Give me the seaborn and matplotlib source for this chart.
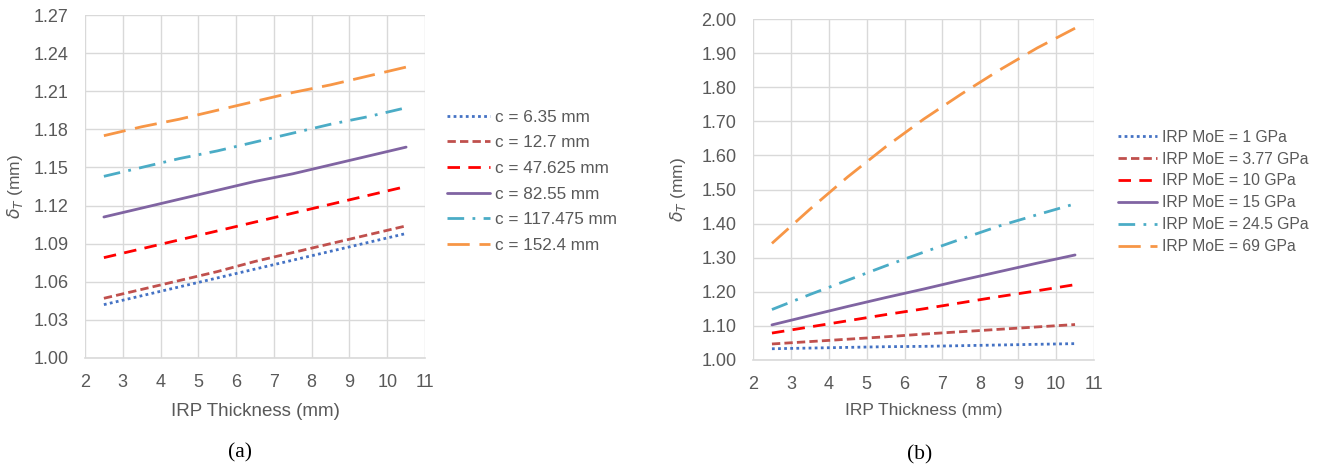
import matplotlib
matplotlib.use("Agg")
import matplotlib.pyplot as plt
import seaborn as sns
import pandas as pd

# ---- data ----
thickness = [2.5, 3.5, 4.5, 5.5, 6.5, 7.5, 8.5, 9.5, 10.5]

labels_a = ["c = 6.35 mm", "c = 12.7 mm", "c = 47.625 mm", "c = 82.55 mm",
            "c = 117.475 mm", "c = 152.4 mm"]
c_635 = [1.042, 1.049, 1.056, 1.063, 1.070, 1.077, 1.084, 1.091, 1.098]
c_127 = [1.047, 1.054, 1.061, 1.068, 1.076, 1.083, 1.090, 1.097, 1.104]
c_47625 = [1.079, 1.086, 1.093, 1.100, 1.107, 1.114, 1.121, 1.128, 1.135]
c_8255 = [1.111, 1.118, 1.125, 1.132, 1.139, 1.145, 1.152, 1.159, 1.166]
c_117475 = [1.143, 1.150, 1.157, 1.163, 1.170, 1.177, 1.184, 1.190, 1.197]
c_1524 = [1.175, 1.182, 1.188, 1.195, 1.202, 1.209, 1.215, 1.222, 1.229]

labels_b = ["IRP MoE = 1 GPa", "IRP MoE = 3.77 GPa", "IRP MoE = 10 GPa",
            "IRP MoE = 15 GPa", "IRP MoE = 24.5 GPa", "IRP MoE = 69 GPa"]
moe_1 = [1.033, 1.035, 1.037, 1.039, 1.040, 1.042, 1.044, 1.046, 1.048]
moe_377 = [1.047, 1.054, 1.061, 1.068, 1.076, 1.083, 1.090, 1.097, 1.104]
moe_10 = [1.079, 1.097, 1.115, 1.133, 1.150, 1.168, 1.186, 1.203, 1.221]
moe_15 = [1.103, 1.130, 1.157, 1.183, 1.208, 1.234, 1.259, 1.284, 1.308]
moe_245 = [1.148, 1.192, 1.234, 1.276, 1.316, 1.355, 1.393, 1.426, 1.458]
moe_69 = [1.342, 1.442, 1.537, 1.625, 1.706, 1.780, 1.850, 1.915, 1.973]

x_ticks = [2, 3, 4, 5, 6, 7, 8, 9, 10, 11]
y_ticks_a = [1.00, 1.03, 1.06, 1.09, 1.12, 1.15, 1.18, 1.21, 1.24, 1.27]
y_ticks_b = [1.00, 1.10, 1.20, 1.30, 1.40, 1.50, 1.60, 1.70, 1.80, 1.90, 2.00]

colors = ["#4472C4", "#C0504D", "#FF0000", "#8064A2", "#4BACC6", "#F79646"]
dash_styles = [(0, (1, 1.2)), (0, (3, 1.5)), (0, (4.5, 3)), "-",
               (0, (6, 3, 1, 3)), (0, (8, 3.5))]

sns.set_theme(style="white")
plt.rcParams['font.family'] = ['Liberation Sans', 'DejaVu Sans']
plt.rcParams['mathtext.fontset'] = 'dejavusans'

fig = plt.figure(figsize=(13.22, 4.72), dpi=100)
W, H = 1322, 472
ax_a = fig.add_axes([85 / W, 1 - 358 / H, 340 / W, 343 / H])
ax_b = fig.add_axes([753 / W, 1 - 360 / H, 341 / W, 341 / H])

tick_col = "#595959"
grid_col = "#D9D9D9"


def draw(ax, series, labels, yticks, fmt, legend_anchor, leg_fs, leg_sp,
         xlabel_fs, ylabel_x, xlabel_y):
    for vals, lab, col, ls in zip(series, labels, colors, dash_styles):
        df = pd.DataFrame({"x": thickness, "y": vals})
        sns.lineplot(data=df, x="x", y="y", ax=ax, color=col, linestyle=ls,
                     linewidth=2.0, label=lab)
    ax.set_xlim(2, 11)
    ax.set_ylim(yticks[0], yticks[-1])
    ax.set_xticks(x_ticks)
    ax.set_yticks(yticks)
    ax.set_yticklabels([fmt.format(v) for v in yticks])
    ax.grid(True, color=grid_col, linewidth=1.0)
    ax.set_axisbelow(True)
    for s in ["top", "right", "left"]:
        ax.spines[s].set_visible(False)
    ax.spines["bottom"].set_color(grid_col)
    ax.spines["bottom"].set_linewidth(1.2)
    ax.tick_params(axis="both", colors=tick_col, labelsize=13, length=0)
    ax.tick_params(axis="x", pad=11.5)
    ax.tick_params(axis="y", pad=12)
    ax.set_xlabel("IRP Thickness (mm)", color=tick_col, fontsize=xlabel_fs, va="center")
    ax.set_ylabel(r"$\delta_T$ (mm)", color=tick_col, fontsize=12.5, va="center")
    ax.xaxis.set_label_coords(0.5, xlabel_y)
    ax.yaxis.set_label_coords(ylabel_x, 0.5)
    leg = ax.legend(loc="center left", bbox_to_anchor=legend_anchor, frameon=False,
                    fontsize=leg_fs, handlelength=2.5, handletextpad=0.3,
                    labelspacing=leg_sp, borderaxespad=0, borderpad=0)
    for t in leg.get_texts():
        t.set_color(tick_col)


draw(ax_a, [c_635, c_127, c_47625, c_8255, c_117475, c_1524], labels_a,
     y_ticks_a, "{:.2f}", (1.065, 0.515), 12.3, 0.62, 13.5,
     (15 - 85) / 340, (358 - 412) / 343)
draw(ax_b, [moe_1, moe_377, moe_10, moe_15, moe_245, moe_69], labels_b,
     y_ticks_b, "{:.2f}", (1.07, 0.493), 11.3, 0.44, 12.6,
     (678 - 753) / 341, (360 - 410) / 341)

fig.text(240 / W, 1 - 453 / H, "(a)", family="Liberation Serif", fontsize=15.5,
         ha="center", va="center", color="black")
fig.text(920 / W, 1 - 455 / H, "(b)", family="Liberation Serif", fontsize=15.5,
         ha="center", va="center", color="black")

fig.savefig("out.png", dpi=100)
